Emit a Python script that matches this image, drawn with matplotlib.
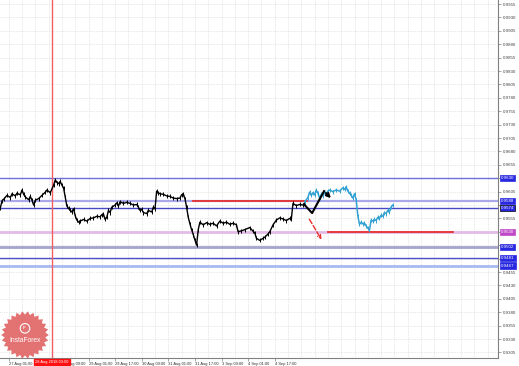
import numpy as np
import matplotlib
matplotlib.use('Agg')
from matplotlib import pyplot as plt
from matplotlib.patches import Polygon, Circle

plt.rcParams['font.family'] = ['Liberation Sans', 'DejaVu Sans']

# bar index (H1 bars, 0 = 27 Aug 01:00) and prices
price_bars = [-5, -4, -3, -1, 1, 2, 4, 5, 7, 8, 9, 10, 12, 13, 14, 15, 16, 18, 20, 22,
              23, 25, 27, 28, 29, 30, 31, 32, 33, 34, 35, 36, 37, 38, 39, 40, 41, 42, 43, 45,
              47, 49, 51, 53, 55, 56, 57, 58, 59, 60, 61, 62, 64, 65, 66, 67, 69, 71, 73, 75,
              77, 78, 79, 80, 81, 83, 84, 86, 87, 88, 89, 90, 91, 93, 95, 97, 99, 101, 103, 104,
              105, 106, 107, 108, 109, 110, 111, 112, 113, 114, 115, 117, 119, 121, 123, 125, 127, 129, 131, 133,
              135, 137, 138, 140, 142, 145, 147, 148, 149, 151, 153, 154, 156, 157, 159, 161, 163, 165, 167, 169,
              170, 171, 173, 175, 177, 178]
price_close = [0.9575, 0.9588, 0.9591, 0.9598, 0.9594, 0.9601, 0.9597, 0.9602, 0.9599, 0.9608,
               0.9600, 0.9595, 0.9590, 0.9596, 0.9589, 0.9580, 0.9589, 0.9592, 0.9598, 0.9604,
               0.9608, 0.9603, 0.9617, 0.9627, 0.9622, 0.9620, 0.9624, 0.9617, 0.9612, 0.9595,
               0.9578, 0.9574, 0.9570, 0.9567, 0.9573, 0.9560, 0.9552, 0.9548, 0.9550, 0.9553,
               0.9550, 0.9555, 0.9556, 0.9559, 0.9558, 0.9562, 0.9563, 0.9553, 0.9557, 0.9570,
               0.9566, 0.9576, 0.9580, 0.9584, 0.9578, 0.9586, 0.9583, 0.9585, 0.9583, 0.9580,
               0.9581, 0.9576, 0.9570, 0.9572, 0.9566, 0.9564, 0.9570, 0.9567, 0.9576, 0.9573,
               0.9606, 0.9603, 0.9601, 0.9600, 0.9597, 0.9596, 0.9593, 0.9592, 0.9593, 0.9599,
               0.9601, 0.9592, 0.9576, 0.9557, 0.9545, 0.9534, 0.9525, 0.9515, 0.9505, 0.9534,
               0.9548, 0.9543, 0.9547, 0.9544, 0.9546, 0.9541, 0.9550, 0.9546, 0.9548, 0.9544,
               0.9546, 0.9543, 0.9530, 0.9532, 0.9534, 0.9538, 0.9531, 0.9528, 0.9518, 0.9514,
               0.9518, 0.9520, 0.9526, 0.9530, 0.9543, 0.9552, 0.9556, 0.9554, 0.9551, 0.9555,
               0.9554, 0.9583, 0.9579, 0.9581, 0.9580, 0.9584]

actual_bars = [178, 180, 181, 182, 183, 184, 185, 186, 187, 188, 189, 190, 191, 192, 193, 195, 197,
               199, 201, 202, 203, 204, 205, 206, 207, 208, 209, 210, 211, 212, 213, 214, 215, 216,
               217, 218, 219, 220, 221, 222, 223, 224, 225, 226, 227, 228, 229, 230, 231]
actual_close = [0.9586, 0.9594, 0.9604, 0.9598, 0.9603, 0.9599, 0.9608, 0.9602, 0.9593, 0.9600,
                0.9597, 0.9603, 0.9600, 0.9606, 0.9608, 0.9605, 0.9608, 0.9606, 0.9612, 0.9609,
                0.9614, 0.9606, 0.9602, 0.9598, 0.9593, 0.9601, 0.9590, 0.9560, 0.9544, 0.9548,
                0.9545, 0.9546, 0.9541, 0.9537, 0.9533, 0.9552, 0.9550, 0.9553, 0.9551, 0.9557,
                0.9555, 0.9561, 0.9559, 0.9566, 0.9564, 0.9570, 0.9567, 0.9576, 0.9580]

# forecast paths
fc_bars = [178, 182.5, 189.7, 195]
fc_price = [0.9580, 0.9565, 0.9606, 0.9589]
alt_bars = [180, 189]
alt_price = [0.9558, 0.9511]

# levels
levels = [0.9630, 0.9588, 0.9574, 0.9530, 0.9502, 0.9481, 0.9467]
level_colors = ['#7070d8', '#a8a8ea', '#4848c4', '#e2bce6', '#a4a4cc', '#5050c8', '#a8b8f0']
level_widths = [1.0, 1.6, 1.0, 2.0, 2.0, 1.0, 2.0]
label_colors = ['#2828e0', '#2828e0', '#2828e0', '#c048c8', '#2828e0', '#2828e0', '#2828e0']
red_lines = [(111, 179.4, 0.95875), (192, 267, 0.9530)]
vline_bar = 26
vline_label = '28 Aug 2018 03:00'

xtick_bars = [0, 32, 48, 64, 80, 96, 112, 128, 144, 160]
xtick_labels = ['27 Aug 01:00', '28 Aug 09:00', '29 Aug 01:00', '29 Aug 17:00', '30 Aug 09:00',
                '31 Aug 01:00', '31 Aug 17:00', '3 Sep 09:00', '4 Sep 01:00', '4 Sep 17:00']

W, H = 519, 366
fig = plt.figure(figsize=(W / 100, H / 100), dpi=100)
ax = fig.add_axes([0, 8 / H, 498 / W, 358 / H])

px_per_bar = 1.6625
x0 = -8.7 / px_per_bar
ax.set_xlim(x0, x0 + 498 / px_per_bar)
ax.set_ylim(0.92946, 0.99625)

# grid
yt = np.round(np.arange(0.9305, 0.99551, 0.0025), 4)
for v in yt:
    ax.axhline(v, color='#cfd4cf', lw=0.5, ls=(0, (1, 1.5)), zorder=0)
for b in np.arange(-8, 300, 8):
    ax.axvline(b, color='#cfd4cf', lw=0.5, ls=(0, (1, 1.5)), zorder=0)

for lv, c, w in zip(levels, level_colors, level_widths):
    ax.axhline(lv, color=c, lw=w, zorder=1)

ax.axvline(vline_bar, color='#f06060', lw=1.0, zorder=2)

for b0, b1, lv in red_lines:
    ax.plot([b0, b1], [lv, lv], color='#e83030', lw=1.3, zorder=3)

ax.plot(price_bars, price_close, color='black', lw=1.0, marker='|', ms=3, mew=0.7, zorder=4)
ax.plot(actual_bars, actual_close, color='#34a2d2', lw=1.1, marker='|', ms=3, mew=0.7, zorder=4)

ax.plot(fc_bars[:-1], fc_price[:-1], color='black', lw=1.5, zorder=5)
ax.annotate('', xy=(fc_bars[-1], fc_price[-1]), xytext=(fc_bars[-2], fc_price[-2]),
            arrowprops=dict(arrowstyle='->', color='black', lw=1.5, mutation_scale=6), zorder=5)
ax.annotate('', xy=(alt_bars[1], alt_price[1]), xytext=(alt_bars[0], alt_price[0]),
            arrowprops=dict(arrowstyle='->', color='#e83030', lw=1.0, ls='--', mutation_scale=6), zorder=5)

# axes styling
for s in ['top', 'left']:
    ax.spines[s].set_visible(False)
ax.spines['right'].set_color('#808080')
ax.spines['bottom'].set_color('#808080')
ax.yaxis.tick_right()
hidden = {0.9630, 0.9580, 0.9530, 0.9505, 0.9480}
ax.set_yticks(yt)
ax.set_yticklabels(['' if v in hidden else f'{v:.4f}' for v in yt])
ax.tick_params(axis='y', labelsize=3.2, length=2, width=0.5, color='#808080', pad=1.5,
               labelcolor='#404040')
ax.set_xticks(xtick_bars)
ax.set_xticklabels(xtick_labels, ha='left')
ax.tick_params(axis='x', labelsize=2.9, length=2, width=0.5, color='#808080', pad=0.8,
               labelcolor='#303030')

# level labels on the price scale
for lv, c in zip(levels, label_colors):
    ec = 'black' if lv == 0.9574 else c
    ax.text(1.0 + 3 / 498, lv, f'{lv:.4f}', transform=ax.get_yaxis_transform(),
            fontsize=3.2, color='white', va='center', ha='left', zorder=6, clip_on=False,
            bbox=dict(boxstyle='square,pad=0.25', fc=c, ec=ec, lw=0.5))

# vertical line time label
ax.text(vline_bar, -0.006, vline_label, transform=ax.get_xaxis_transform(), fontsize=2.9,
        color='white', ha='center', va='top', clip_on=False, zorder=7,
        bbox=dict(boxstyle='square,pad=0.3', fc='#ff1010', ec='#ff1010'))

# logo
lax = fig.add_axes([0, 6 / H, 50 / W, 50 / H])
lax.set_xlim(-1.05, 1.05)
lax.set_ylim(-1.05, 1.05)
lax.set_aspect('equal')
lax.axis('off')
n = 26
ang = np.linspace(0, 2 * np.pi, 2 * n, endpoint=False)
rad = np.where(np.arange(2 * n) % 2 == 0, 1.0, 0.86)
lax.add_patch(Polygon(np.c_[rad * np.cos(ang), rad * np.sin(ang)], closed=True,
                      fc='#e06464', ec='none', alpha=0.9))
lax.add_patch(Circle((0, 0.28), 0.2, fc='none', ec='white', lw=0.8))
lax.text(0, 0.28, 'IF', color='white', fontsize=3, ha='center', va='center', fontweight='bold')
lax.text(0, -0.25, 'InstaForex', color='white', fontsize=4.8, ha='center', va='center')

fig.savefig('out.png', dpi=100)
